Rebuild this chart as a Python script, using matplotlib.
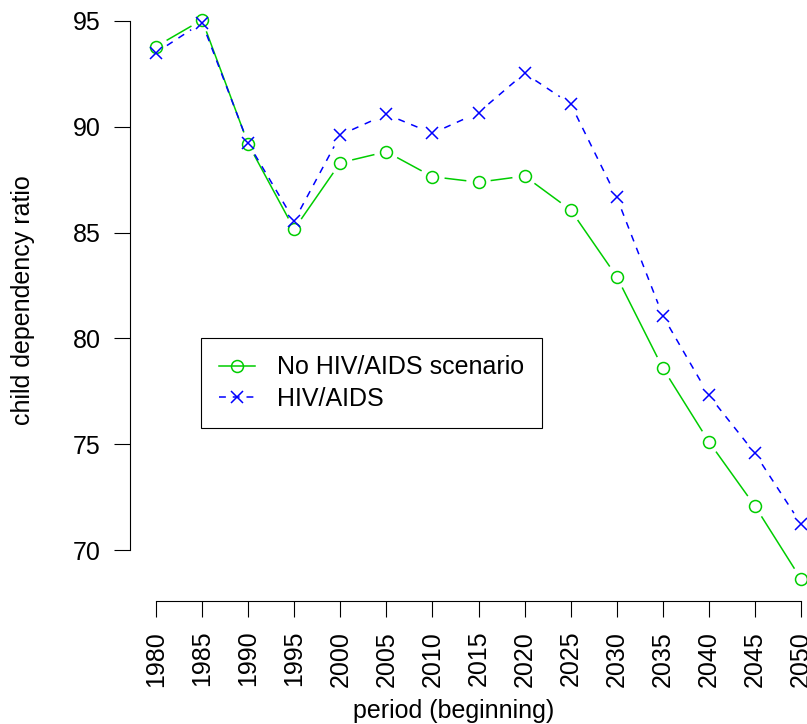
import numpy as np
import matplotlib
matplotlib.use("Agg")
import matplotlib.pyplot as plt
from matplotlib.lines import Line2D

plt.rcParams['font.family'] = ['Liberation Sans', 'DejaVu Sans']

periods = [1980, 1985, 1990, 1995, 2000, 2005, 2010, 2015, 2020, 2025, 2030, 2035, 2040, 2045, 2050]
no_hiv = [93.79, 95.05, 89.19, 85.16, 88.30, 88.82, 87.64, 87.38, 87.67, 86.07, 82.92, 78.60, 75.12, 72.08, 68.63]
hiv = [93.50, 94.92, 89.22, 85.56, 89.61, 90.59, 89.69, 90.67, 92.53, 91.08, 86.67, 81.07, 77.31, 74.57, 71.23]
yticks = [70, 75, 80, 85, 90, 95]
series_labels = ["No HIV/AIDS scenario", "HIV/AIDS"]
xlabel = "period (beginning)"
ylabel = "child dependency ratio"

GREEN = "#00CD00"
BLUE = "#0000FF"
FS = 18

W, H, DPI = 807, 724, 100
fig = plt.figure(figsize=(W / DPI, H / DPI), dpi=DPI)
ax = fig.add_axes([130.2 / W, 1 - 601.4 / H, 696.6 / W, 603.9 / H])

x = np.array(periods, dtype=float)
xr = x.max() - x.min()
ax.set_xlim(x.min() - 0.04 * xr, x.max() + 0.04 * xr)
allv = np.array(no_hiv + hiv)
vr = allv.max() - allv.min()
ax.set_ylim(allv.min() - 0.04 * vr, allv.max() + 0.04 * vr)
ax.autoscale(False)


def draw_b(xs, ys, color, ls, marker, ms):
    # R type="b": line segments with gaps around the points
    gap = 0.13 * fig.dpi
    pts = ax.transData.transform(np.column_stack([xs, ys]))
    inv = ax.transData.inverted()
    for i in range(len(pts) - 1):
        p0, p1 = pts[i], pts[i + 1]
        d = p1 - p0
        L = np.hypot(*d)
        if L <= 2 * gap:
            continue
        u = d / L
        a = inv.transform(p0 + u * gap)
        b = inv.transform(p1 - u * gap)
        ax.plot([a[0], b[0]], [a[1], b[1]], color=color, lw=1.1, clip_on=False,
                **({'dashes': (4.5, 4.5)} if ls == '--' else {'linestyle': '-'}))
    ax.plot(xs, ys, linestyle='none', marker=marker, ms=ms, mfc='none',
            mec=color, mew=1.1, clip_on=False)


draw_b(x, no_hiv, GREEN, '-', 'o', 8.6)
draw_b(x, hiv, BLUE, '--', 'x', 8.0)

for s in ['top', 'right']:
    ax.spines[s].set_visible(False)
ax.spines['left'].set_bounds(min(yticks), max(yticks))
ax.spines['bottom'].set_bounds(x.min(), x.max())
for s in ['left', 'bottom']:
    ax.spines[s].set_linewidth(0.8)

ax.set_xticks(periods)
ax.set_xticklabels([str(p) for p in periods], rotation=90)
ax.set_yticks(yticks)
ax.set_yticklabels([str(v) for v in yticks])
ax.tick_params(axis='both', direction='out', length=11.2, width=0.8, labelsize=FS,
               colors='black', pad=10)

fig.text(454 / W, 1 - 711 / H, xlabel, ha='center', va='center', fontsize=FS)
fig.text(23 / W, 1 - 300 / H, ylabel, ha='center', va='center', rotation=90, fontsize=FS)

handles = [
    Line2D([], [], color=GREEN, lw=1.1, marker='o', ms=8.6, mfc='none', mec=GREEN, mew=1.1),
    Line2D([], [], color=BLUE, lw=1.1, dashes=(4.5, 4.5), marker='x', ms=8.0, mec=BLUE, mew=1.1),
]
leg = fig.legend(handles, series_labels, loc='upper left',
                 bbox_to_anchor=(201 / W, 1 - 338 / H), fontsize=FS,
                 frameon=True, fancybox=False, edgecolor='black', framealpha=1,
                 borderpad=0.7, labelspacing=0.28, handlelength=1.45, handletextpad=0.9,
                 borderaxespad=0)
leg.get_frame().set_linewidth(0.8)

fig.savefig("out.png", dpi=DPI)
